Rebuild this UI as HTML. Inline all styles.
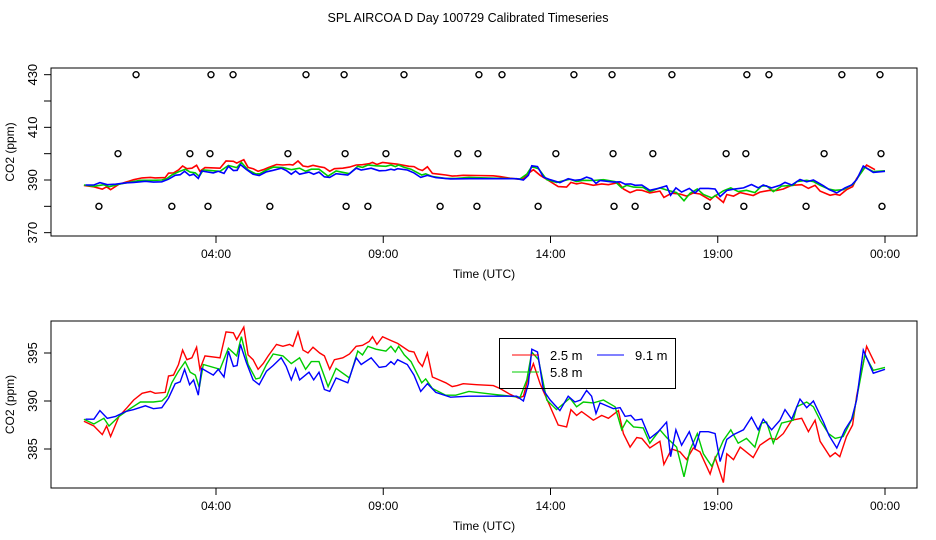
<!DOCTYPE html>
<html><head><meta charset="utf-8"><style>
body{margin:0;background:#fff;}
svg{display:block;font-family:"Liberation Sans",sans-serif;}
</style></head><body>
<svg id="c" width="936" height="540" xmlns="http://www.w3.org/2000/svg">
<rect width="936" height="540" fill="#fff"/>
<text x="468" y="22" font-size="12.5" text-anchor="middle">SPL AIRCOA D  Day 100729  Calibrated Timeseries</text>
</svg>
<script>
const xTickHours=[4,9,14,19,24];
const xTickLabels=["04:00","09:00","14:00","19:00","00:00"];
const topYTicks=[370,380,390,400,410,420,430];
const topYLabels=["370","","390","","410","","430"];
const botYTicks=[385,390,395];
const botYLabels=["385","390","395"];
const redT=[0.05,0.35,0.6,0.73,0.85,1.1,1.34,1.54,1.79,2.04,2.18,2.48,2.58,2.73,2.88,3.0,3.13,3.28,3.42,3.52,3.67,4.12,4.3,4.52,4.62,4.83,4.96,5.11,5.26,5.41,5.56,5.81,6.0,6.2,6.3,6.45,6.6,6.75,6.9,7.1,7.24,7.4,7.54,7.79,7.99,8.19,8.38,8.58,8.68,8.81,8.98,9.23,9.43,9.77,9.92,10.05,10.17,10.32,10.47,10.67,10.87,11.06,11.21,11.39,11.79,12.29,12.49,12.79,13.04,13.19,13.34,13.49,13.69,13.94,14.23,14.48,14.61,14.78,14.93,15.13,15.28,15.53,15.73,16.03,16.18,16.38,16.58,16.73,16.97,17.27,17.39,17.62,17.87,18.07,18.27,18.47,18.77,18.92,19.17,19.27,19.47,19.67,20.06,20.26,20.56,20.76,20.96,21.21,21.51,21.71,21.91,22.06,22.36,22.51,22.65,22.85,23.03,23.15,23.45,23.7];
const redV=[387.9,387.4,386.5,387.4,386.3,388.4,389.3,390.1,390.8,391.0,390.8,390.9,392.6,392.7,393.8,395.3,394.3,394.5,395.6,393.3,394.7,394.5,397.2,397.1,396.4,397.7,394.8,394.3,393.3,393.9,394.7,395.9,395.7,395.9,395.7,397.2,395.3,395.0,395.6,395.0,394.7,393.3,394.3,394.5,394.9,395.7,395.8,396.2,396.7,395.9,396.7,396.3,396.0,395.2,395.1,394.1,393.6,395.0,392.5,392.2,391.9,391.5,391.6,391.8,391.7,391.6,391.3,390.7,390.3,390.5,392.5,393.9,391.8,389.8,387.5,387.3,389.1,388.5,388.9,388.4,388.0,388.5,388.2,389.0,386.6,385.2,386.2,386.1,385.1,385.8,383.4,385.0,384.7,383.9,385.1,384.7,382.4,384.1,381.5,384.5,383.9,385.2,384.1,385.4,386.1,386.0,386.6,388.0,388.2,386.8,388.0,385.8,384.2,384.6,384.2,386.3,387.5,390.5,395.7,393.9];
const greenT=[0.05,0.35,0.65,0.8,1.1,1.39,1.74,2.13,2.38,2.53,2.68,2.88,3.08,3.23,3.38,3.5,3.62,4.12,4.37,4.62,4.76,4.96,5.19,5.31,5.51,5.71,6.0,6.25,6.5,6.68,6.85,7.08,7.35,7.59,7.99,8.24,8.38,8.54,8.78,9.08,9.23,9.36,9.46,9.63,9.83,10.15,10.27,10.47,10.87,11.17,11.56,12.29,13.09,13.29,13.44,13.64,13.89,14.18,14.58,14.78,14.98,15.28,15.58,15.93,16.13,16.28,16.48,16.77,16.97,17.27,17.47,17.77,17.99,18.17,18.39,18.57,18.82,19.02,19.17,19.39,19.61,19.86,20.11,20.31,20.46,20.66,20.91,21.26,21.36,21.66,21.86,22.06,22.31,22.51,22.75,23.05,23.2,23.4,23.65,24.0];
const greenV=[388.1,387.6,388.2,387.4,388.4,389.1,389.9,389.9,390.0,390.5,391.9,393.1,394.1,393.0,392.7,391.4,393.8,393.3,395.5,394.7,396.7,393.8,392.3,392.4,393.8,394.9,394.7,393.9,394.5,393.3,394.1,394.1,391.5,393.4,392.4,395.2,394.8,395.7,395.4,395.2,395.7,395.1,395.7,394.8,394.1,391.9,392.3,391.3,390.6,390.6,391.0,390.7,390.4,392.2,395.1,394.3,390.1,389.1,390.3,389.4,389.9,389.8,390.1,389.4,387.0,388.0,387.3,387.2,385.6,387.0,386.2,385.2,382.1,384.9,386.6,384.5,383.2,384.7,385.9,387.0,385.6,386.1,385.2,387.7,387.8,385.6,387.7,388.0,389.4,389.9,389.4,388.0,386.6,386.1,386.3,388.4,391.1,394.8,393.2,393.5];
const blueT=[0.1,0.35,0.53,0.75,1.0,1.29,1.54,1.89,2.13,2.38,2.58,2.78,2.93,3.06,3.21,3.33,3.47,3.57,3.92,4.07,4.24,4.37,4.52,4.63,4.73,4.91,5.11,5.29,5.51,5.71,5.95,6.1,6.25,6.38,6.5,6.78,6.92,7.08,7.24,7.4,7.59,7.94,8.19,8.34,8.64,8.88,9.08,9.23,9.33,9.43,9.72,9.92,10.12,10.32,10.57,11.01,11.56,12.29,12.99,13.19,13.34,13.44,13.61,13.79,13.99,14.28,14.53,14.73,14.9,15.08,15.23,15.36,15.48,15.88,16.08,16.23,16.4,16.53,16.73,16.97,17.22,17.47,17.59,17.75,17.92,18.15,18.32,18.47,18.72,18.92,19.07,19.27,19.47,19.77,20.01,20.21,20.36,20.61,20.86,21.01,21.21,21.46,21.66,21.86,22.16,22.33,22.56,22.8,23.0,23.15,23.35,23.65,24.0];
const blueV=[388.1,388.1,389.0,388.2,388.4,388.9,389.1,389.5,389.2,389.3,390.3,391.8,392.0,393.3,391.7,392.2,390.6,393.4,392.7,393.3,392.5,395.2,393.6,393.7,395.9,394.0,392.2,391.7,393.1,393.7,394.5,393.6,392.2,393.4,392.2,393.0,392.2,393.0,391.2,391.0,392.4,391.9,394.5,393.8,394.5,393.5,393.6,394.1,393.8,394.3,393.8,392.7,391.0,391.8,390.9,390.4,390.5,390.5,390.5,390.0,391.8,395.4,395.1,391.1,390.1,389.0,390.5,389.9,390.1,391.1,390.5,388.7,389.8,389.2,389.3,388.4,388.5,388.0,388.1,386.1,386.8,387.8,384.2,387.0,385.4,386.8,385.1,386.8,386.8,386.6,383.7,386.0,386.5,387.0,388.3,387.0,388.1,387.0,388.0,389.1,388.1,390.2,389.3,390.0,387.8,386.4,385.1,387.0,388.1,390.1,395.3,392.9,393.3];
const circ430=[1.61,3.85,4.51,6.69,7.83,9.62,11.86,12.55,14.70,15.84,17.63,19.87,20.53,22.71,23.85];
const circ400=[1.07,3.22,3.82,6.15,7.86,9.08,11.23,11.83,14.16,15.87,17.06,19.25,19.84,22.18,23.88];
const circ380=[0.5,2.68,3.76,5.61,7.89,8.54,10.7,11.8,13.63,15.9,16.53,18.68,19.78,21.64,23.91];

const svg=document.getElementById('c');
const NS='http://www.w3.org/2000/svg';
function mk(tag,attrs,parent){const e=document.createElementNS(NS,tag);for(const k in attrs)e.setAttribute(k,attrs[k]);(parent||svg).appendChild(e);return e;}
const X=h=>216+(h-4)*33.45;
const L=51,R=917;
const panels=[
 {name:'top',top:68,bot:236,y:v=>180-(v-390)*2.633,yt:topYTicks,yl:topYLabels,lw:1.6},
 {name:'bottom',top:321,bot:488,y:v=>401-(v-390)*9.6,yt:botYTicks,yl:botYLabels,lw:1.4}
];
panels.forEach(p=>{
 const g=mk('g',{});
 
 
 const fr=mk('rect',{x:L,y:p.top,width:R-L,height:p.bot-p.top,fill:'none',stroke:'#000','stroke-width':1},g);
 
 
 xTickHours.forEach((h,i)=>{
  const x=X(h);
  mk('line',{x1:x,x2:x,y1:p.bot,y2:p.bot+7,stroke:'#000'},g);
  const t=mk('text',{x:x,y:p.bot+22,'font-size':12,'text-anchor':'middle'},g);
  t.textContent=xTickLabels[i];
  
  
 });
 p.yt.forEach((v,i)=>{
  const y=p.y(v);
  mk('line',{x1:L-7,x2:L,y1:y,y2:y,stroke:'#000'},g);
  if(p.yl[i]){
   const t=mk('text',{x:0,y:0,'font-size':13,'text-anchor':'middle',transform:`translate(${L-14},${y}) rotate(-90)`},g);
   t.textContent=p.yl[i];
   
   
  }
 });
 const yt=mk('text',{x:0,y:0,'font-size':12,'text-anchor':'middle',transform:`translate(14,${(p.top+p.bot)/2}) rotate(-90)`},g);
 yt.textContent='CO2 (ppm)';
 
 
 const xt=mk('text',{x:484,y:p.bot+42,'font-size':12,'text-anchor':'middle'},g);
 xt.textContent='Time (UTC)';
 
 
 const cp=mk('clipPath',{id:'clip-'+p.name},g);
 mk('rect',{x:L,y:p.top,width:R-L,height:p.bot-p.top},cp);
 [['red',redT,redV,'#f00'],['green',greenT,greenV,'#0c0'],['blue',blueT,blueV,'#00f']].forEach(s=>{
  const d=s[1].map((h,i)=>(i?'L':'M')+X(h).toFixed(1)+','+p.y(s[2][i]).toFixed(1)).join('');
  const pl=mk('path',{d:d,fill:'none',stroke:s[3],'stroke-width':p.lw,'clip-path':`url(#clip-${p.name})`},g);
  
  
 });
 if(p.name==='top'){
  [[430,circ430],[400,circ400],[380,circ380]].forEach(c=>{
   c[1].forEach(h=>{
    const ci=mk('circle',{cx:X(h),cy:p.y(c[0]),r:3,fill:'none',stroke:'#000','stroke-width':1.4},g);
    
    
   });
  });
 }
});
// legend
const lg=mk('g',{});


mk('rect',{x:499.5,y:338.5,width:176,height:50,fill:'none',stroke:'#000'},lg);
const ents=[['2.5 m','#f00',512,355],['5.8 m','#0c0',512,372],['9.1 m','#00f',597,355]];
ents.forEach(e=>{
 const li=mk('line',{x1:e[2],x2:e[2]+27,y1:e[3],y2:e[3],stroke:e[1],'stroke-width':1},lg);
 
 
 const t=mk('text',{x:e[2]+38,y:e[3]+5,'font-size':13},lg);
 t.textContent=e[0];
 
 
});
</script>
</body></html>
